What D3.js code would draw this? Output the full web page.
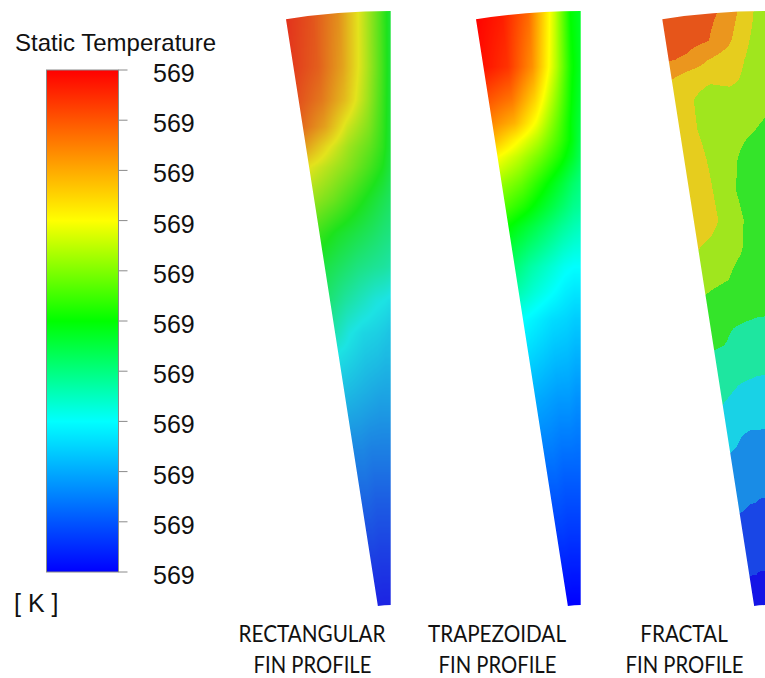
<!DOCTYPE html>
<html>
<head>
<meta charset="utf-8">
<script src="https://cdn.jsdelivr.net/npm/d3@7"></script>
<style>
  html, body { margin: 0; padding: 0; background: #ffffff; }
  svg { display: block; }
</style>
</head>
<body>
<script>
// ---------------- data ----------------
const legendTitle = "Static Temperature";
const legendUnit = "[ K ]";
// colour-bar tick labels, top (hot) to bottom (cold)
const tickLabels = ["569", "569", "569", "569", "569", "569", "569", "569", "569", "569", "569"];
const profileNames = ["RECTANGULAR", "TRAPEZOIDAL", "FRACTAL"];
const profileSuffix = "FIN PROFILE";

// Normalised temperature (0 = coldest, 1 = hottest) sampled across each fin.
// Columns: fraction of the fin width, from the slanted edge (0) to the straight edge (1).
// Rows: fraction of the fin length, from the outer arc (0) to the root (1).
const fieldCols = [0, 0.25, 0.5, 0.75, 0.9, 1];

const rectRows = [0, 0.094, 0.15, 0.195, 0.229, 0.263, 0.318, 0.374, 0.431, 0.487, 0.542, 0.576, 0.655, 0.739, 0.823, 0.907, 1];
const rectTemps = [
  [0.97, 0.92, 0.83, 0.66, 0.55, 0.47],
  [0.95, 0.90, 0.80, 0.65, 0.55, 0.47],
  [0.92, 0.86, 0.76, 0.63, 0.54, 0.47],
  [0.88, 0.80, 0.68, 0.60, 0.53, 0.47],
  [0.80, 0.71, 0.63, 0.57, 0.52, 0.47],
  [0.70, 0.65, 0.60, 0.54, 0.50, 0.46],
  [0.62, 0.58, 0.53, 0.48, 0.45, 0.43],
  [0.53, 0.49, 0.46, 0.43, 0.41, 0.40],
  [0.46, 0.43, 0.40, 0.38, 0.37, 0.36],
  [0.41, 0.37, 0.34, 0.31, 0.30, 0.29],
  [0.35, 0.305, 0.28, 0.27, 0.26, 0.25],
  [0.30, 0.28, 0.26, 0.25, 0.24, 0.24],
  [0.23, 0.22, 0.21, 0.20, 0.20, 0.20],
  [0.16, 0.16, 0.15, 0.15, 0.15, 0.15],
  [0.11, 0.11, 0.10, 0.10, 0.10, 0.10],
  [0.06, 0.06, 0.055, 0.055, 0.055, 0.055],
  [0.01, 0.01, 0.01, 0.01, 0.01, 0.01]
];

const trapRows = [0, 0.094, 0.15, 0.189, 0.217, 0.246, 0.29, 0.33, 0.364, 0.431, 0.475, 0.52, 0.655, 0.768, 0.879, 1];
const trapTemps = [
  [1.00, 0.97, 0.88, 0.66, 0.50, 0.47],
  [0.98, 0.94, 0.83, 0.64, 0.51, 0.47],
  [0.90, 0.86, 0.75, 0.60, 0.50, 0.46],
  [0.84, 0.79, 0.69, 0.57, 0.49, 0.45],
  [0.78, 0.71, 0.64, 0.55, 0.49, 0.44],
  [0.70, 0.65, 0.59, 0.52, 0.47, 0.43],
  [0.62, 0.58, 0.52, 0.46, 0.42, 0.40],
  [0.56, 0.52, 0.47, 0.42, 0.39, 0.38],
  [0.50, 0.46, 0.42, 0.38, 0.36, 0.35],
  [0.41, 0.37, 0.34, 0.31, 0.30, 0.30],
  [0.36, 0.33, 0.305, 0.28, 0.27, 0.27],
  [0.30, 0.28, 0.26, 0.25, 0.24, 0.24],
  [0.20, 0.19, 0.18, 0.18, 0.17, 0.17],
  [0.13, 0.13, 0.12, 0.12, 0.12, 0.12],
  [0.07, 0.07, 0.065, 0.065, 0.065, 0.065],
  [0.00, 0.00, 0.00, 0.00, 0.00, 0.00]
];

const fracCols = [0, 0.2, 0.4, 0.6, 0.8, 1];
const fracRows = [0, 0.049, 0.082, 0.116, 0.15, 0.2, 0.251, 0.301, 0.352, 0.402, 0.453, 0.503, 0.554, 0.604, 0.655, 0.722, 0.79, 0.84, 0.899, 0.949, 1];
const fracTemps = [
  [0.99, 0.95, 0.94, 0.88, 0.745, 0.62],
  [0.95, 0.94, 0.91, 0.83, 0.71, 0.63],
  [0.91, 0.88, 0.80, 0.75, 0.69, 0.63],
  [0.80, 0.73, 0.71, 0.72, 0.68, 0.63],
  [0.76, 0.70, 0.66, 0.66, 0.65, 0.62],
  [0.76, 0.70, 0.65, 0.63, 0.61, 0.58],
  [0.77, 0.72, 0.66, 0.61, 0.56, 0.54],
  [0.77, 0.74, 0.66, 0.60, 0.55, 0.53],
  [0.76, 0.74, 0.68, 0.62, 0.57, 0.54],
  [0.70, 0.67, 0.64, 0.61, 0.56, 0.54],
  [0.63, 0.615, 0.60, 0.56, 0.54, 0.53],
  [0.57, 0.55, 0.53, 0.52, 0.51, 0.51],
  [0.52, 0.51, 0.48, 0.47, 0.47, 0.46],
  [0.46, 0.45, 0.43, 0.42, 0.41, 0.41],
  [0.41, 0.39, 0.37, 0.36, 0.36, 0.35],
  [0.32, 0.31, 0.29, 0.28, 0.28, 0.28],
  [0.26, 0.25, 0.24, 0.23, 0.23, 0.23],
  [0.205, 0.20, 0.19, 0.19, 0.18, 0.18],
  [0.15, 0.15, 0.14, 0.14, 0.14, 0.14],
  [0.105, 0.10, 0.10, 0.095, 0.095, 0.095],
  [0.04, 0.04, 0.04, 0.04, 0.04, 0.04]
];

// contour levels used by the banded (fractal) plot
const bandLevels = [0.1, 0.2, 0.3, 0.4, 0.5, 0.6, 0.7, 0.8, 0.9, 0.98];

// ---------------- styles & layout ----------------
const W = 765, H = 678;
const colormapStops = ["#0000ff", "#00ffff", "#00ff00", "#ffff00", "#ff0000"];
const colormapDomain = [0, 0.3, 0.5, 0.7, 1];
const bandColors = ["#1414e6", "#1946e6", "#198ce6", "#19d2e6", "#1ee6a0", "#34e42a",
                    "#a0e61e", "#e6cd1e", "#eb961e", "#e6551a", "#e61414"];

const bar = { x: 46.5, y: 70, w: 72, h: 502 };
const outerR = 677, innerR = 83, sweep = 0.1553, pivotY = 688;
const fins = [
  { name: profileNames[0], pivotX: 390.7, cols: fieldCols, rows: rectRows, temps: rectTemps, mode: "smooth", mute: 0.22, labelX: 312 },
  { name: profileNames[1], pivotX: 580.7, cols: fieldCols, rows: trapRows, temps: trapTemps, mode: "smooth", mute: 0.0, labelX: 497 },
  { name: profileNames[2], pivotX: 767.0, cols: fracCols, rows: fracRows, temps: fracTemps, mode: "banded", mute: 0.0, labelX: 684 }
];

// ---------------- scales ----------------
const colormap = d3.scaleLinear().domain(colormapDomain).range(colormapStops).clamp(true);
const bandScale = d3.scaleThreshold().domain(bandLevels).range(bandColors);
const tickY = d3.scalePoint().domain(d3.range(tickLabels.length)).range([bar.y, bar.y + bar.h]);
const depth = d3.scaleLinear().domain([pivotY - outerR, pivotY - innerR]).range([0, 1]).clamp(true);

const svg = d3.select("body").append("svg")
  .attr("width", W).attr("height", H)
  .attr("viewBox", `0 0 ${W} ${H}`);

// ---------------- colour bar ----------------
const defs = svg.append("defs");
const grad = defs.append("linearGradient").attr("id", "tempGrad")
  .attr("x1", 0).attr("y1", 1).attr("x2", 0).attr("y2", 0);
d3.range(0, 1.0001, 0.05).forEach(t => {
  grad.append("stop").attr("offset", t).attr("stop-color", colormap(t));
});

svg.append("text")
  .attr("x", 15).attr("y", 51)
  .attr("font-family", "'Liberation Sans', Arial, sans-serif")
  .attr("font-size", 24).attr("fill", "#111")
  .text(legendTitle);

svg.append("rect")
  .attr("x", bar.x).attr("y", bar.y).attr("width", bar.w).attr("height", bar.h)
  .attr("fill", "url(#tempGrad)")
  .attr("stroke", "#8a8a8a").attr("stroke-width", 1);

const ticks = svg.append("g");
ticks.selectAll("line").data(tickLabels).join("line")
  .attr("x1", bar.x + bar.w).attr("x2", bar.x + bar.w + 9)
  .attr("y1", (d, i) => tickY(i)).attr("y2", (d, i) => tickY(i))
  .attr("stroke", "#8a8a8a").attr("stroke-width", 1);
ticks.selectAll("text").data(tickLabels).join("text")
  .attr("x", 153).attr("y", (d, i) => tickY(i) + 12)
  .attr("font-family", "'Liberation Sans', Arial, sans-serif")
  .attr("font-size", 25).attr("fill", "#111")
  .text(d => d);

svg.append("text")
  .attr("x", 14).attr("y", 612)
  .attr("font-family", "'Liberation Sans', Arial, sans-serif")
  .attr("font-size", 25).attr("fill", "#111")
  .attr("xml:space", "preserve")
  .text(legendUnit);

// ---------------- fins ----------------
function sampleField(fin, u, s) {
  const { rows, cols, temps } = fin;
  let i = d3.bisectRight(rows, s) - 1;
  i = Math.max(0, Math.min(rows.length - 2, i));
  let j = d3.bisectRight(cols, u) - 1;
  j = Math.max(0, Math.min(cols.length - 2, j));
  const ty = Math.max(0, Math.min(1, (s - rows[i]) / (rows[i + 1] - rows[i])));
  const tx = Math.max(0, Math.min(1, (u - cols[j]) / (cols[j + 1] - cols[j])));
  const a = temps[i][j] * (1 - tx) + temps[i][j + 1] * tx;
  const b = temps[i + 1][j] * (1 - tx) + temps[i + 1][j + 1] * tx;
  return a * (1 - ty) + b * ty;
}

function colourLookup(fin) {
  const n = 1024;
  const muted = c => fin.mute > 0 ? d3.interpolateRgb(c, "#808080")(fin.mute) : c;
  return d3.range(n + 1).map(k => {
    const t = k / n;
    const c = fin.mode === "banded" ? bandScale(t) : colormap(t);
    return d3.rgb(muted(c));
  });
}

function paintFin(fin) {
  const cx = fin.pivotX;
  const x0 = Math.floor(cx - outerR * Math.sin(sweep)) - 2;
  const x1 = Math.ceil(cx) + 2;
  const y0 = Math.floor(pivotY - outerR) - 2;
  const y1 = Math.ceil(pivotY - innerR * Math.cos(sweep)) + 2;
  const cw = x1 - x0, ch = y1 - y0;
  const canvas = document.createElement("canvas");
  canvas.width = cw; canvas.height = ch;
  const ctx = canvas.getContext("2d");
  const img = ctx.createImageData(cw, ch);
  const lut = colourLookup(fin);
  for (let py = 0; py < ch; py++) {
    const y = y0 + py + 0.5;
    const s = depth(y);
    for (let px = 0; px < cw; px++) {
      const x = x0 + px + 0.5;
      let u = 1 - Math.atan2(cx - x, pivotY - y) / sweep;
      u = Math.max(0, Math.min(1, u));
      const v = Math.max(0, Math.min(1, sampleField(fin, u, s)));
      const c = lut[Math.round(v * 1024)];
      const o = (py * cw + px) * 4;
      img.data[o] = c.r; img.data[o + 1] = c.g; img.data[o + 2] = c.b; img.data[o + 3] = 255;
    }
  }
  ctx.putImageData(img, 0, 0);
  return { href: canvas.toDataURL(), x0, y0, cw, ch };
}

const arc = d3.arc()
  .innerRadius(innerR).outerRadius(outerR)
  .startAngle(-sweep).endAngle(0);

fins.forEach((fin, k) => {
  const clipId = `finClip${k}`;
  defs.append("clipPath").attr("id", clipId)
    .append("path")
    .attr("transform", `translate(${fin.pivotX},${pivotY})`)
    .attr("d", arc());
  const pic = paintFin(fin);
  svg.append("image")
    .attr("href", pic.href)
    .attr("x", pic.x0).attr("y", pic.y0)
    .attr("width", pic.cw).attr("height", pic.ch)
    .attr("preserveAspectRatio", "none")
    .attr("clip-path", `url(#${clipId})`);
});

// ---------------- profile captions ----------------
const captions = svg.append("g")
  .attr("font-family", "Lato, 'Open Sans', sans-serif")
  .attr("font-size", 23).attr("fill", "#111")
  .attr("text-anchor", "middle");
fins.forEach(fin => {
  captions.append("text")
    .attr("transform", `translate(${fin.labelX},641.5) scale(0.9,1)`)
    .text(fin.name);
  captions.append("text")
    .attr("transform", `translate(${fin.labelX + 0.5},673) scale(0.88,1)`)
    .text(profileSuffix);
});
</script>
</body>
</html>
